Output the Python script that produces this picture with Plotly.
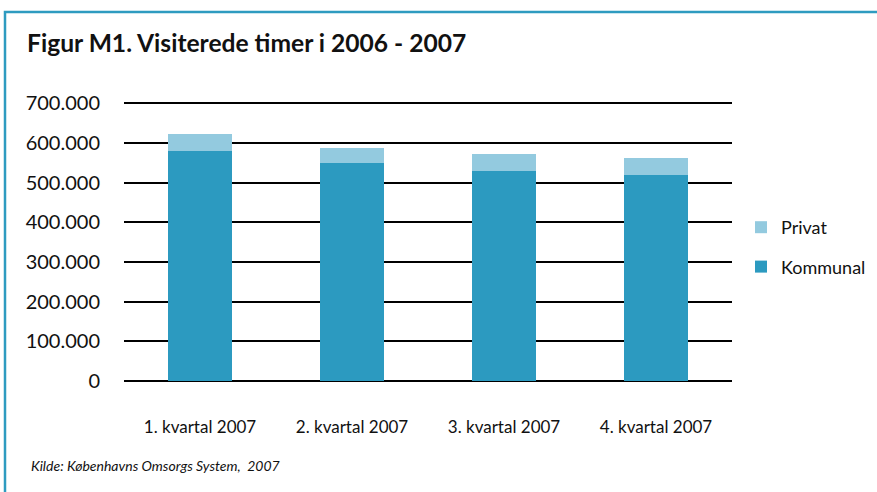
import plotly.graph_objects as go

categories = ["1. kvartal 2007", "2. kvartal 2007", "3. kvartal 2007", "4. kvartal 2007"]
kommunal = [579000, 549000, 528000, 518000]
privat = [43000, 38000, 43000, 43000]
y_ticks = [0, 100000, 200000, 300000, 400000, 500000, 600000, 700000]

FONT = "Lato"
W, H = 877, 492
L, R, T, B = 124, 145, 102, 111
pw, ph = W - L - R, H - T - B

def px_x(px):
    return (px - L) / pw

def px_y(py):
    return (H - B - py) / ph

fig = go.Figure()
fig.add_trace(go.Bar(x=categories, y=kommunal, name="Kommunal",
                     marker=dict(color="#2C9AC0", line=dict(width=0)),
                     legendgroup="k", legendrank=2))
fig.add_trace(go.Bar(x=categories, y=privat, name="Privat",
                     marker=dict(color="#93CADF", line=dict(width=0)),
                     legendgroup="p", legendrank=1))

fig.update_layout(
    width=W, height=H,
    margin=dict(l=L, r=R, t=T, b=B, autoexpand=False),
    paper_bgcolor="white", plot_bgcolor="white",
    barmode="stack", bargap=0.585,
    separators=",.",
    font=dict(family=FONT, color="#111111", size=17),
    title=dict(text="<b>Figur M1. Visiterede timer i 2006 - 2007</b>",
               x=27 / W, xanchor="left", xref="container",
               y=1 - 43 / H, yanchor="middle", yref="container",
               font=dict(family=FONT, size=24.6, color="#111111")),
    showlegend=True,
    legend=dict(x=px_x(741), xanchor="left", y=px_y(209), yanchor="top",
                traceorder="grouped", tracegroupgap=13,
                font=dict(family=FONT, size=18, color="#111111"),
                bgcolor="rgba(0,0,0,0)"),
    xaxis=dict(showgrid=False, showline=False, ticks="",
               ticklabelstandoff=34, tickfont=dict(size=17)),
    yaxis=dict(range=[0, 703000], tickvals=y_ticks, tickformat=",d",
               showgrid=True, gridcolor="#000000", gridwidth=1.5,
               zeroline=True, zerolinecolor="#000000", zerolinewidth=1.5,
               showline=False, ticks="", ticklabelstandoff=23,
               tickfont=dict(size=20)),
    shapes=[dict(type="rect", xref="paper", yref="paper",
                 x0=px_x(5), x1=px_x(W + 40), y0=px_y(H + 40), y1=px_y(12),
                 line=dict(color="#2E9BC0", width=2.5), fillcolor="rgba(0,0,0,0)",
                 layer="above")],
    annotations=[dict(text="<i>Kilde: Københavns Omsorgs System,  2007</i>",
                      xref="paper", yref="paper", x=px_x(29), y=px_y(465),
                      xanchor="left", yanchor="middle", showarrow=False,
                      font=dict(family=FONT, size=14, color="#111111"))],
)

fig.write_html("out.html", config={"displayModeBar": False},
               post_script="document.body.style.margin='0';document.body.style.overflow='hidden';")
